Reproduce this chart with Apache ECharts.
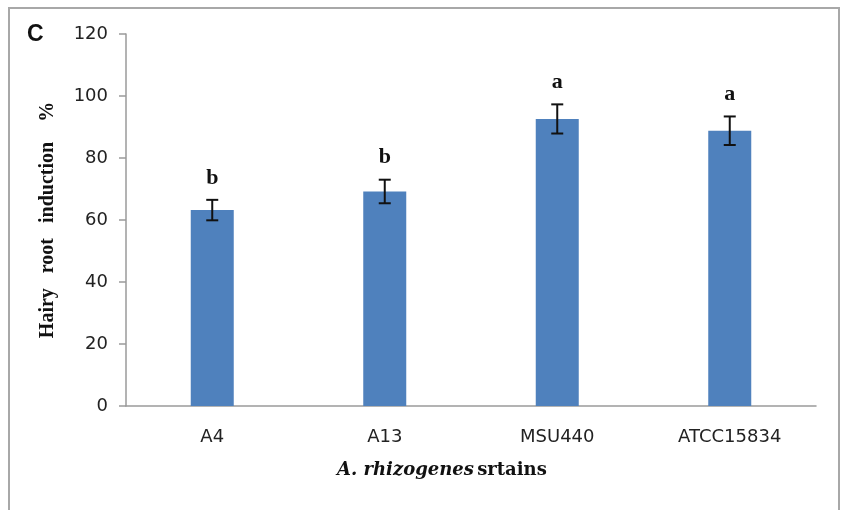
<!DOCTYPE html>
<html>
<head>
<meta charset="utf-8">
<script src="https://cdn.jsdelivr.net/npm/echarts@6/dist/echarts.min.js"></script>
<style>html,body{margin:0;padding:0;background:#fff}#c{width:843px;height:510px}</style>
</head>
<body>
<div id="c"></div>
<script>
const categories = ['A4', 'A13', 'MSU440', 'ATCC15834'];
const values = [63.2, 69.2, 92.6, 88.8];
const errors = [3.3, 3.8, 4.7, 4.6];
const letters = ['b', 'b', 'a', 'a'];
const yTicks = [0, 20, 40, 60, 80, 100, 120];

const chart = echarts.init(document.getElementById('c'));
const errData = categories.map((c, i) => [i, values[i] - errors[i], values[i] + errors[i], letters[i]]);

chart.setOption({
  animation: false,
  grid: { left: 126, right: 27, top: 34, bottom: 104 },
  xAxis: {
    type: 'category',
    data: categories,
    axisLine: { lineStyle: { color: '#9a9a9a', width: 1.5 } },
    axisTick: { show: false },
    axisLabel: { color: '#222', fontFamily: 'DejaVu Sans', fontSize: 18, margin: 22 }
  },
  yAxis: {
    type: 'value',
    min: yTicks[0],
    max: yTicks[yTicks.length - 1],
    interval: 20,
    name: 'Hairy   root   induction    %',
    nameLocation: 'middle',
    nameRotate: 90,
    nameGap: 68,
    nameTextStyle: { fontFamily: 'Liberation Serif', fontWeight: 'bold', fontSize: 20, color: '#111' },
    axisLine: { show: true, lineStyle: { color: '#9a9a9a', width: 1.5 } },
    axisTick: { show: true, inside: false, length: 7, lineStyle: { color: '#9a9a9a', width: 1.5 } },
    splitLine: { show: false },
    axisLabel: { color: '#222', fontFamily: 'DejaVu Sans', fontSize: 18, margin: 18 }
  },
  graphic: [
    { type: 'rect', shape: { x: 9, y: 8, width: 830, height: 520 }, style: { fill: 'none', stroke: '#a8a8a8', lineWidth: 2 }, z: -1 },
    { type: 'text', left: 27, top: 23, style: { text: 'C', font: 'bold 23px "Liberation Sans"', fill: '#111' } },
    { type: 'text', left: 337, top: 461, style: {
        text: '{i|A. rhizogenes} {b|srtains}',
        rich: {
          i: { fontFamily: 'DejaVu Serif', fontStyle: 'italic', fontWeight: 'bold', fontSize: 18, fill: '#111' },
          b: { fontFamily: 'DejaVu Serif', fontWeight: 'bold', fontSize: 18, fill: '#111' }
        }
    } }
  ],
  series: [
    {
      type: 'bar',
      data: values,
      barWidth: 43,
      itemStyle: { color: '#4F81BD' }
    },
    {
      type: 'custom',
      data: errData,
      z: 10,
      renderItem: function (params, api) {
        const x = api.value(0);
        const lo = api.coord([x, api.value(1)]);
        const hi = api.coord([x, api.value(2)]);
        const w = 6;
        const st = { stroke: '#111', lineWidth: 2 };
        return {
          type: 'group',
          children: [
            { type: 'line', shape: { x1: lo[0], y1: lo[1], x2: hi[0], y2: hi[1] }, style: st },
            { type: 'line', shape: { x1: lo[0] - w, y1: lo[1], x2: lo[0] + w, y2: lo[1] }, style: st },
            { type: 'line', shape: { x1: hi[0] - w, y1: hi[1], x2: hi[0] + w, y2: hi[1] }, style: st },
            { type: 'text', x: hi[0], y: hi[1] - 11, style: {
                text: api.value(3), textAlign: 'center', textVerticalAlign: 'bottom',
                font: 'bold 22px "Liberation Serif"', fill: '#111'
            } }
          ]
        };
      }
    }
  ]
});
</script>
</body>
</html>
